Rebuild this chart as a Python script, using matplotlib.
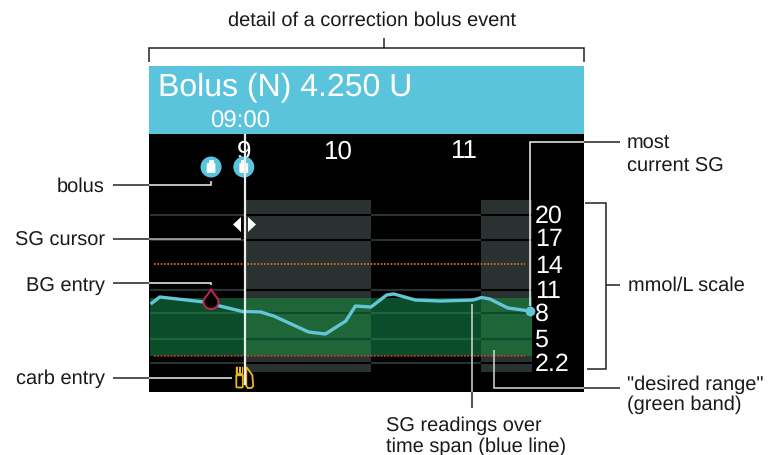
import matplotlib
matplotlib.use('Agg')
import matplotlib.pyplot as plt
from matplotlib.patches import Polygon, Circle, Rectangle, FancyBboxPatch, PathPatch
from matplotlib.path import Path

plt.rcParams['font.family'] = ['Liberation Sans', 'DejaVu Sans']
plt.rcParams['text.hinting'] = 'no_hinting'
plt.rcParams['text.hinting_factor'] = 1

# SG trace, time in hours, glucose in mmol/L
sg_hours = [8.225, 8.29, 8.66, 8.79, 8.98, 9.13, 9.24, 9.53, 9.67, 9.84, 9.92, 10.05,
            10.18, 10.24, 10.42, 10.63, 10.9, 10.97, 11.04, 11.19, 11.375]
sg_values = [9.27, 10.0, 9.39, 8.9, 8.23, 8.17, 7.68, 5.73, 5.49, 7.07, 8.9, 8.78,
             10.24, 10.37, 9.63, 9.51, 9.63, 9.94, 9.76, 8.66, 8.29]

grid_values = [20, 17, 10.85, 8.05, 4.9, 1.95]
scale_labels = ['20', '17', '14', '11', '8', '5', '2.2']
scale_values = [19.9, 16.95, 13.7, 10.7, 7.9, 4.7, 1.8]
hour_labels = ['9', '10', '11']
hour_positions = [8.99, 9.77, 10.82]
band_hours = [(9.0, 10.05), (10.97, 11.39)]
green_range = (2.8, 9.88)
high_limit = 14
low_limit = 2.85
bolus_hours = [8.717, 8.99]
bg_hour = 8.717
bg_value = 9.27
carb_hour = 8.99

W, H = 771, 455
fig = plt.figure(figsize=(W / 100, H / 100), dpi=100, facecolor='white')

# overlay in pixels for the callouts
over = fig.add_axes([0, 0, 1, 1], zorder=3)
over.set_xlim(0, W)
over.set_ylim(H, 0)
over.axis('off')

# screen panel: x 149-584, y 134-392 in px
ax = fig.add_axes([149 / W, 1 - 392 / H, 435 / W, 258 / H], zorder=1, facecolor='black')
px_x = lambda p: 9 + (p - 245) / 120
px_y = lambda p: 20 - (p - 215) / 8.2
ax.set_xlim(px_x(149), px_x(584))
ax.set_ylim(px_y(392), px_y(134))
ax.set_xticks([])
ax.set_yticks([])
for s in ax.spines.values():
    s.set_visible(False)

grey = '#2a3231'
dark_green = '#0b4d2b'
light_green = '#1e6538'
x0, x1 = px_x(150), px_x(532)

# grey bands and green range
for a, b in band_hours:
    ax.axvspan(a, b, ymin=(392 - 372) / 258, ymax=(392 - 200) / 258, color=grey, lw=0, zorder=1)
ax.fill_between([x0, x1], green_range[0], green_range[1], color=dark_green, lw=0, zorder=2)
for a, b in band_hours:
    ax.fill_between([a, b], green_range[0], green_range[1], color=light_green, lw=0, zorder=2)

# grid lines swap colour inside the bands
edges = [x0, band_hours[0][0], band_hours[0][1], band_hours[1][0], band_hours[1][1]]
for v in grid_values:
    in_green = green_range[0] < v < green_range[1]
    for i in range(4):
        inside = i in (1, 3)
        if in_green:
            c = dark_green if inside else light_green
        else:
            c = 'black' if inside else grey
        ax.plot(edges[i:i + 2], [v, v], color=c, lw=1.5, zorder=3, solid_capstyle='butt')

ax.plot([px_x(154), px_x(525)], [high_limit, high_limit], color='#e8761a', lw=1.2, ls=(0, (1, 1)), zorder=4)
ax.plot([px_x(154), px_x(525)], [low_limit, low_limit], color='#d8313c', lw=1.2, ls=(0, (1, 1)), zorder=4)

# SG line and latest point
ax.plot(sg_hours, sg_values, color='#62c6d6', lw=2.4, zorder=5, solid_joinstyle='round')
ax.plot(sg_hours[-1], sg_values[-1], 'o', color='#62c6d6', ms=7, mew=0, zorder=8)

for lab, h in zip(hour_labels, hour_positions):
    ax.text(h, px_y(151.6), lab, color='white', fontsize=19, ha='center', va='center', zorder=6)
for lab, v in zip(scale_labels, scale_values):
    ax.text(px_x(535), v, lab, color='white', fontsize=18, ha='left', va='center', zorder=6)

# header
over.add_patch(Rectangle((149, 66), 435, 68, color='#5bc4dd', lw=0))
over.text(158, 87, 'Bolus (N) 4.250 U', color='white', fontsize=23.4, ha='left', va='center')
over.text(240, 122, '09:00', color='white', fontsize=17.5, ha='center', va='center')

# bolus icons
for h in bolus_hours:
    cx = 245 + (h - 9) * 120
    over.add_patch(Circle((cx, 167), 10.5, color='#5bc4dd', lw=0, zorder=4))
    over.add_patch(FancyBboxPatch((cx - 3.5, 164), 7, 8, boxstyle='round,pad=0.5', fc='white', ec='white', lw=0.5, zorder=5))
    over.add_patch(Rectangle((cx - 2.5, 160), 5, 2.5, fc='white', lw=0, zorder=5))

# cursor
over.plot([244.7, 244.7], [135, 384], color='#ececec', lw=1.6, zorder=9)
over.add_patch(Polygon([[241, 217], [241, 232], [233, 224.5]], color='white', lw=0, zorder=6))
over.add_patch(Polygon([[248, 217], [248, 232], [256, 224.5]], color='white', lw=0, zorder=6))

# BG drop
bx = 245 + (bg_hour - 9) * 120
by = 215 + (20 - bg_value) * 8.2
drop = Path([(bx, by - 14), (bx - 2, by - 9), (bx - 7.5, by - 5), (bx - 7.5, by - 1), (bx - 7.5, by + 3), (bx - 4, by + 6), (bx, by + 6),
             (bx + 4, by + 6), (bx + 7.5, by + 3), (bx + 7.5, by - 1), (bx + 7.5, by - 5), (bx + 2, by - 9), (bx, by - 14)],
            [Path.MOVETO] + [Path.CURVE4] * 12)
over.add_patch(PathPatch(drop, fc='black', ec='#c8215c', lw=1.4, zorder=7))

# carb icon
cx = 245 + (carb_hour - 9) * 120
yel = '#eab51c'
over.add_patch(FancyBboxPatch((cx - 6.5, 376), 4.5, 10.5, boxstyle='round,pad=1', fc='black', ec=yel, lw=1.3, zorder=7))
over.add_patch(Rectangle((cx - 7.5, 367), 6.5, 9, fc=yel, ec=yel, lw=0.3, zorder=7))
for dx in (-5.5, -3.2):
    over.plot([cx + dx, cx + dx], [367, 372], color='black', lw=0.7, zorder=8)
over.add_patch(Polygon([[cx + 2.5, 367], [cx + 8.5, 375], [cx + 9.5, 386], [cx + 7.5, 388], [cx + 4, 388], [cx + 2.5, 386]],
                       fc='black', ec=yel, lw=1.3, zorder=7))

# leader lines, black on the page and white on the panel
lw = 1.1


def lead(pts, color='#222222'):
    xs, ys = zip(*pts)
    over.plot(xs, ys, color=color, lw=lw, zorder=5, solid_capstyle='butt', solid_joinstyle='miter')


white = '#f2f2f2'
lead([(113, 185), (149, 185)])
lead([(149, 185), (210.7, 185), (210.7, 181)], white)
lead([(113, 239), (149, 239)])
lead([(149, 239), (241, 239)], '#b8b8b8')
lead([(113, 283), (149, 283)])
lead([(149, 283), (211, 283), (211, 285)], white)
lead([(113, 378), (149, 378)])
lead([(149, 378), (232, 378)], white)
lead([(584, 142), (620, 142)])
lead([(584, 142), (530, 142), (530, 306)], white)
lead([(149, 62), (149, 48), (584, 48), (584, 62)])
lead([(384, 48), (384, 38)])
lead([(585, 203), (606, 203), (606, 369), (587, 369)])
lead([(606, 285), (620, 285)])
lead([(472, 392), (472, 408)])
lead([(472, 304), (472, 392)], '#d8d8d8')
lead([(584, 388), (620, 388)])
lead([(494, 350), (494, 388), (584, 388)], '#d8d8d8')

# callout text
tc = '#1a1a1a'
fs = 14.5
over.text(372, 21, 'detail of a correction bolus event', color=tc, fontsize=fs, ha='center', va='center')
over.text(105, 187, 'bolus', color=tc, fontsize=fs, ha='right', va='center')
over.text(105, 241, 'SG cursor', color=tc, fontsize=fs, ha='right', va='center')
over.text(105, 287, 'BG entry', color=tc, fontsize=fs, ha='right', va='center')
over.text(105, 379, 'carb entry', color=tc, fontsize=fs, ha='right', va='center')
over.text(627, 144, 'most', color=tc, fontsize=fs, ha='left', va='center')
over.text(627, 167, 'current SG', color=tc, fontsize=fs, ha='left', va='center')
over.text(628, 286, 'mmol/L scale', color=tc, fontsize=fs, ha='left', va='center')
over.text(627, 385, '"desired range"', color=tc, fontsize=fs, ha='left', va='center')
over.text(627, 405, '(green band)', color=tc, fontsize=fs, ha='left', va='center')
over.text(386, 426, 'SG readings over', color=tc, fontsize=fs, ha='left', va='center')
over.text(386, 447, 'time span (blue line)', color=tc, fontsize=fs, ha='left', va='center')

fig.savefig('out.png', dpi=100)
